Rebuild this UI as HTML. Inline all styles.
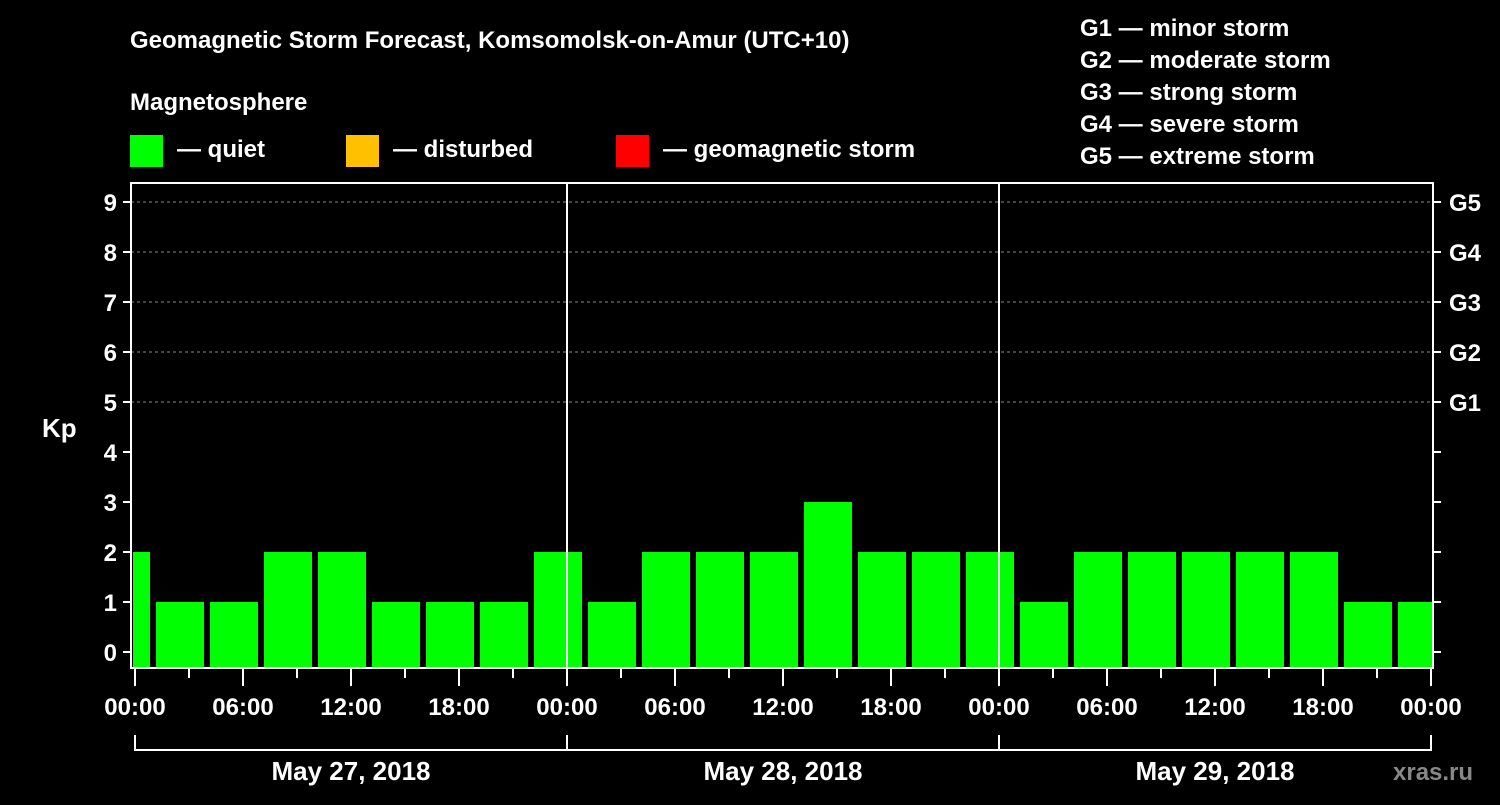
<!DOCTYPE html>
<html><head><meta charset="utf-8"><style>
body{margin:0;background:#000;width:1500px;height:800px;overflow:hidden}
svg text{font-family:"Liberation Sans",Arial,sans-serif;font-weight:bold;fill:#fff}
</style></head><body>
<svg id="chart" width="1500" height="800" xmlns="http://www.w3.org/2000/svg">
<text x="130" y="48" font-size="24">Geomagnetic Storm Forecast, Komsomolsk-on-Amur (UTC+10)</text>
<text x="130" y="110" font-size="24">Magnetosphere</text>
<g><rect x="130" y="135" width="33" height="32" fill="#00ff00"/><text x="177" y="157" font-size="24">— quiet</text></g>
<g><rect x="346" y="135" width="33" height="32" fill="#ffc000"/><text x="393" y="157" font-size="24">— disturbed</text></g>
<g><rect x="616" y="135" width="33" height="32" fill="#ff0000"/><text x="663" y="157" font-size="24">— geomagnetic storm</text></g>
<g font-size="24">
<text x="1080" y="36">G1 — minor storm</text>
<text x="1080" y="68">G2 — moderate storm</text>
<text x="1080" y="100">G3 — strong storm</text>
<text x="1080" y="132">G4 — severe storm</text>
<text x="1080" y="164">G5 — extreme storm</text>
</g>
<text x="42" y="437" font-size="26">Kp</text>
<g id="plot"></g>
<text x="1393" y="780" font-size="24" fill="#888" style="fill:#888">xras.ru</text>
</svg>
<script>
const kpValues=[2,1,1,2,2,1,1,1,2,1,2,2,2,3,2,2,2,1,2,2,2,2,2,1,1];
const binStartHour=-2;
const binHours=3;
const dayLabels=["May 27, 2018","May 28, 2018","May 29, 2018"];
const timeLabels=["00:00","06:00","12:00","18:00"];
const gLabels=["G1","G2","G3","G4","G5"];
const NS="http://www.w3.org/2000/svg";
const X0=135,PXH=18,Y0=652,PXK=50,L=131,R=1433,T=183,B=668;
const x=h=>X0+h*PXH, y=k=>Y0-k*PXK;
const g=document.getElementById('plot');
function mk(t,a){const e=document.createElementNS(NS,t);for(const k in a)e.setAttribute(k,a[k]);g.appendChild(e);return e;}
// grid
for(let k=5;k<=9;k++){const e=mk('line',{x1:L,x2:R,y1:y(k),y2:y(k),stroke:'#888','stroke-dasharray':'3,3','stroke-width':1});

}
// bars
kpValues.forEach((v,i)=>{let h0=binStartHour+i*binHours,h1=h0+binHours;
let x1=x(h0)+3,x2=x(h1)-3;x1=Math.max(x1,L+2);x2=Math.min(x2,R);
const e=mk('rect',{x:x1,y:y(v),width:x2-x1,height:B-y(v),fill:v>=5?'#ff0000':v>=4?'#ffc000':'#00ff00'});

});
// day separators
for(let d=1;d<dayLabels.length;d++){const e=mk('line',{x1:x(24*d),x2:x(24*d),y1:T,y2:B,stroke:'#fff','stroke-width':2});

}
// frame
const f=mk('rect',{x:L,y:T,width:R-L,height:B-T,fill:'none',stroke:'#fff','stroke-width':2});


// y ticks
for(let k=0;k<=9;k++){mk('line',{x1:L-8,x2:L,y1:y(k),y2:y(k),stroke:'#fff','stroke-width':2});
mk('line',{x1:R,x2:R+8,y1:y(k),y2:y(k),stroke:'#fff','stroke-width':2});
const t=mk('text',{x:L-14,y:y(k)+9,'font-size':24,'text-anchor':'end'});t.textContent=k;

}
gLabels.forEach((s,i)=>{const t=mk('text',{x:1449,y:y(5+i)+9,'font-size':24});t.textContent=s;

});
// x ticks
const days=dayLabels.length;
for(let h=0;h<=24*days;h+=3){const major=h%6===0;
mk('line',{x1:x(h),x2:x(h),y1:B,y2:B+(major?18:10),stroke:'#fff','stroke-width':2});
if(major){const t=mk('text',{x:x(h),y:715,'font-size':24,'text-anchor':'middle'});t.textContent=timeLabels[(h/6)%4];

}}
// day brackets
dayLabels.forEach((s,d)=>{const a=x(24*d),b=x(24*(d+1));
mk('path',{d:`M${a},735V750H${b}V735`,fill:'none',stroke:'#fff','stroke-width':2});
const t=mk('text',{x:(a+b)/2,y:780,'font-size':26,'text-anchor':'middle'});t.textContent=s;

});
</script>
</body></html>
